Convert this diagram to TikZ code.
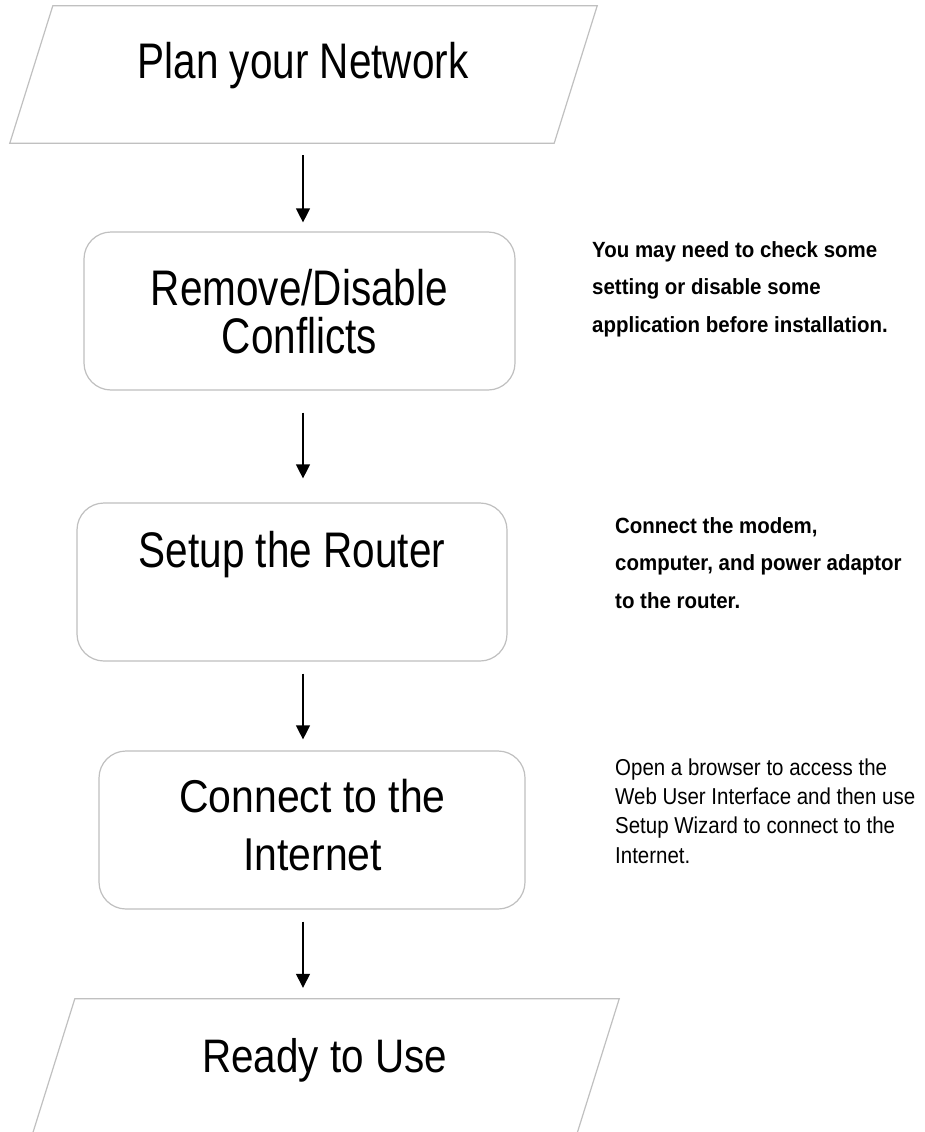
\documentclass[tikz,border=0pt]{standalone}
\usepackage{fontspec}
\setmainfont{Liberation Sans}
\newfontfamily\boxfont[FakeStretch=0.81]{Liberation Sans}
\newfontfamily\boxfontd[FakeStretch=0.89]{Liberation Sans}
\newfontfamily\readyfont[FakeStretch=0.86]{Liberation Sans}
\newfontfamily\notefont[FakeStretch=0.93]{Liberation Sans}
\newfontfamily\notefontr[FakeStretch=0.89]{Liberation Sans}
\usetikzlibrary{arrows.meta}
\definecolor{edgegray}{RGB}{192,192,192}
\begin{document}
\begin{tikzpicture}[x=1pt,y=1pt,
  outline/.style={draw=edgegray, line width=1.2pt},
  rbox/.style={outline, rounded corners=27pt, minimum height=158pt, inner sep=0pt},
  pbox/.style={minimum width=587pt, minimum height=137pt, inner sep=0pt},
  flow/.style={line width=1.3pt, -{Triangle[length=14pt,width=14pt]}},
  bigtext/.style={font=\boxfont\fontsize{50}{48}\selectfont, align=center, inner sep=0pt, anchor=base},
  boldnote/.style={font=\notefont\bfseries\fontsize{22}{37.5}\selectfont, align=left, inner sep=0pt, anchor=base west},
  plainnote/.style={font=\notefontr\fontsize{23}{29.3}\selectfont, align=left, inner sep=0pt, anchor=base west}
]
\useasboundingbox (0,0) rectangle (924,-1132);
\fill[white] (0,0) rectangle (924,-1132);

% shapes
\node[pbox] (plan) at (303.5,-74.5) {};
\draw[outline] (plan.south west) -- ([xshift=-43pt]plan.south east) -- (plan.north east) -- ([xshift=43pt]plan.north west) -- cycle;
\node[rbox, minimum width=431pt] (remove) at (299.5,-311) {};
\node[rbox, minimum width=430pt] (setup) at (292,-582) {};
\node[rbox, minimum width=426pt] (connect) at (312,-830) {};
\node[pbox] (ready) at (325.5,-1067.5) {};
\draw[outline] (ready.south west) -- ([xshift=-43pt]ready.south east) -- (ready.north east) -- ([xshift=43pt]ready.north west) -- cycle;

% texts in shapes (base = baseline of the last line)
\node[bigtext] (plantext) at (303,-78) {Plan your Network};
\node[bigtext] (removetext) at (299.5,-353) {Remove/Disable\\Conflicts};
\node[bigtext] (setuptext) at (292,-567) {Setup the Router};
\node[bigtext, font=\boxfontd\fontsize{46}{58}\selectfont] (connecttext) at (312.5,-870) {Connect to the\\Internet};
\node[bigtext, font=\readyfont\fontsize{47}{48}\selectfont] (readytext) at (324.5,-1072) {Ready to Use};

% side notes
\node[boldnote] (note1) at (592,-332) {You may need to check some\\setting or disable some\\application before installation.};
\node[boldnote] (note2) at (615,-608) {Connect the modem,\\computer, and power adaptor\\to the router.};
\node[plainnote] (note3) at (615,-863) {Open a browser to access the\\Web User Interface and then use\\Setup Wizard to connect to the\\Internet.};

% connectors
\coordinate (ax) at (303,0);
\draw[flow, shorten <=12pt, shorten >=9pt] (plan.south -| ax) -- (remove.north -| ax);
\draw[flow, shorten <=22pt, shorten >=24pt] (remove.south -| ax) -- (setup.north -| ax);
\draw[flow, shorten <=12pt, shorten >=11pt] (setup.south -| ax) -- (connect.north -| ax);
\draw[flow, shorten <=12pt, shorten >=11pt] (connect.south -| ax) -- (ready.north -| ax);
\end{tikzpicture}
\end{document}
